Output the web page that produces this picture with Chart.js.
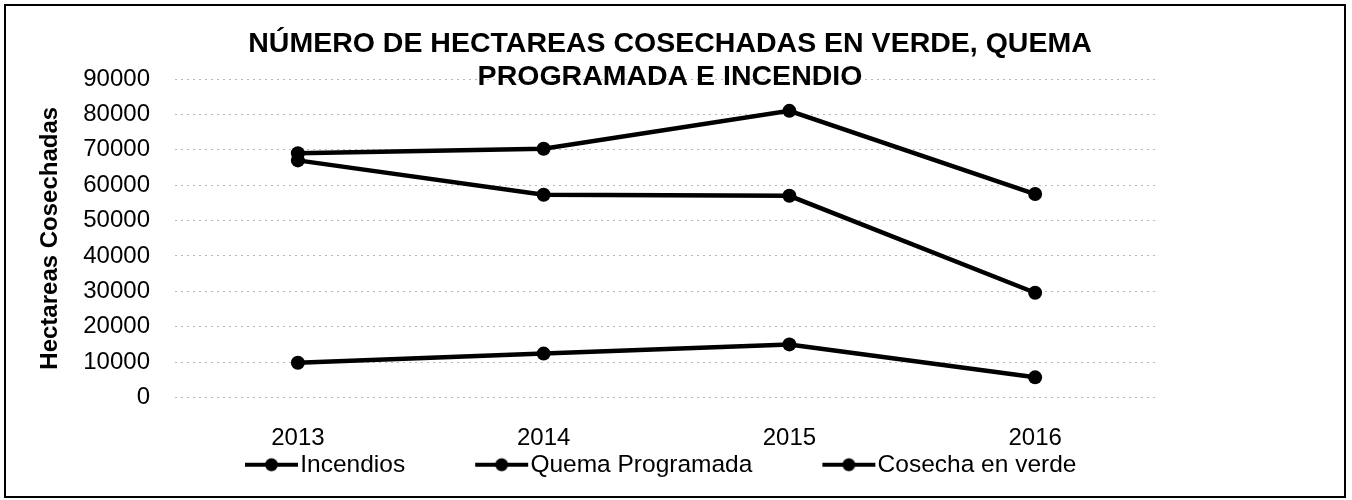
<!DOCTYPE html>
<html>
<head>
<meta charset="utf-8">
<script src="https://cdn.jsdelivr.net/npm/chart.js@4"></script>
<style>
  html, body { margin: 0; padding: 0; background: #fff; }
  #wrap { position: relative; width: 1352px; height: 500px; }
  #chart { position: absolute; left: 0; top: 0; }
  #frame { position: absolute; left: 4px; top: 4px; width: 1342px; height: 494px;
           box-sizing: border-box; border: 2px solid #000; pointer-events: none; }
</style>
</head>
<body>
<div id="wrap">
  <canvas id="chart" width="1352" height="500"></canvas>
  <div id="frame"></div>
</div>
<script>
const years = ['2013', '2014', '2015', '2016'];
const incendios = [9800, 12400, 15000, 5700];
const quemaProgramada = [67000, 57300, 57000, 29600];
const cosechaVerde = [69000, 70300, 81000, 57500];
const titleLines = ['NÚMERO DE HECTAREAS COSECHADAS EN VERDE, QUEMA', 'PROGRAMADA E INCENDIO'];
const yTitle = 'Hectareas Cosechadas';

const FONT = "'Liberation Sans', Arial, sans-serif";

// legend marker: line with a dot, drawn on a small canvas
const mark = document.createElement('canvas');
mark.width = 141;
mark.height = 16;
const mc = mark.getContext('2d');
mc.strokeStyle = '#000';
mc.lineWidth = 4;
mc.beginPath();
mc.moveTo(84, 8);
mc.lineTo(137, 8);
mc.stroke();
mc.fillStyle = '#000';
mc.beginPath();
mc.arc(110.5, 8, 6.5, 0, Math.PI * 2);
mc.fill();

function series(label, data) {
  return {
    label: label,
    data: data,
    borderColor: '#000',
    backgroundColor: '#000',
    borderWidth: 4.5,
    pointRadius: 7,
    pointHoverRadius: 7,
    pointBackgroundColor: '#000',
    pointBorderWidth: 0,
    tension: 0
  };
}

const ctx = document.getElementById('chart').getContext('2d');
new Chart(ctx, {
  type: 'line',
  data: {
    labels: years,
    datasets: [
      series('Incendios', incendios),
      series('Quema Programada', quemaProgramada),
      series('Cosecha en verde', cosechaVerde)
    ]
  },
  options: {
    responsive: false,
    animation: false,
    layout: { padding: { left: 0, right: 12, top: 0, bottom: 13 } },
    plugins: {
      title: {
        display: true,
        text: titleLines,
        color: '#000',
        font: { family: FONT, size: 28.5, weight: 'bold', lineHeight: 33 / 28.5 },
        padding: { top: 27.5, bottom: -14.5 }
      },
      legend: {
        position: 'bottom',
        align: 'start',
        fullSize: false,
        labels: {
          usePointStyle: true,
          pointStyle: mark,
          pointStyleWidth: 113,
          padding: 0,
          color: '#000',
          font: { family: FONT, size: 24.5 }
        }
      },
      tooltip: { enabled: false }
    },
    scales: {
      x: {
        offset: true,
        grid: { display: false },
        border: { display: false },
        ticks: { color: '#000', padding: 18.6, font: { family: FONT, size: 24 } },
        afterFit: s => { s.height = 55; }
      },
      y: {
        min: 0,
        max: 90000,
        ticks: {
          stepSize: 10000,
          color: '#000',
          padding: 25,
          font: { family: FONT, size: 24 },
          callback: v => String(v)
        },
        grid: { color: '#b8b8b8', lineWidth: 1, drawTicks: false },
        border: { display: false, dash: [2, 4] },
        title: {
          display: true,
          text: yTitle,
          color: '#000',
          font: { family: FONT, size: 24, weight: 'bold' },
          padding: { top: 36, bottom: 0 }
        },
        afterFit: s => { s.width = 175; }
      },
      yR: {
        position: 'right',
        grid: { display: false },
        border: { display: false },
        ticks: { display: false },
        afterFit: s => { s.width = 182; }
      }
    }
  }
});
</script>
</body>
</html>
